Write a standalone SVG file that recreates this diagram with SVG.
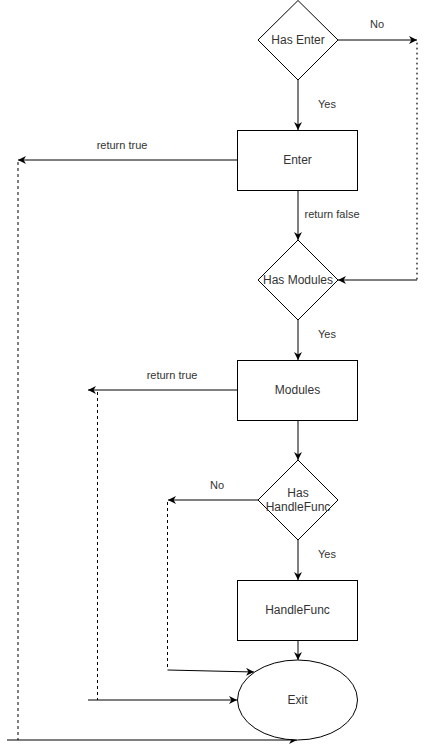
<svg xmlns="http://www.w3.org/2000/svg" width="426" height="749" viewBox="0 0 426 749">
<defs>
<marker id="arr" viewBox="0 0 10 10" refX="10" refY="5" markerWidth="8" markerHeight="8" markerUnits="userSpaceOnUse" orient="auto">
<path d="M0,0 L10,5 L0,10 L3,5 z" fill="#000"/>
</marker>
<style>
.shape{fill:#fff;stroke:#000;stroke-width:1}
.t{font-family:"Liberation Sans",Arial,sans-serif;font-size:12px;fill:#333;text-anchor:middle}
.l{font-family:"Liberation Sans",Arial,sans-serif;font-size:11px;fill:#333;text-anchor:middle}
.e{fill:none;stroke:#000;stroke-width:1}
.a{marker-end:url(#arr)}
.dash{stroke-dasharray:3 3}
.dot{stroke-dasharray:1 4;stroke-linecap:round;stroke-width:1.2}
</style>
</defs>
<rect width="426" height="749" fill="#fff"/>
<g id="connectors">
<path class="e a" d="M298 80 V130"/>
<path class="e a" d="M338 40 H417"/>
<path class="e dot" d="M417 43 V280"/>
<path class="e a" d="M417 280 H338"/>
<path class="e a" d="M237 160 H18"/>
<path class="e dash" d="M18 162 V740"/>
<path class="e a" d="M7 740 H297"/>
<path class="e a" d="M298 190 V240"/>
<path class="e a" d="M298 320 V360"/>
<path class="e a" d="M237 390 H88"/>
<path class="e dash" d="M97.5 392 V700"/>
<path class="e a" d="M88 700 H237"/>
<path class="e a" d="M298 420 V460"/>
<path class="e a" d="M258 500 H168"/>
<path class="e dash" d="M167.5 502 V670"/>
<path class="e a" d="M167.5 670 L254 672"/>
<path class="e a" d="M298 540 V580"/>
<path class="e a" d="M298 640 V660"/>
<text class="l" x="377" y="28">No</text>
<text class="l" x="327" y="108">Yes</text>
<text class="l" x="122" y="149">return true</text>
<text class="l" x="332" y="218">return false</text>
<text class="l" x="327" y="338">Yes</text>
<text class="l" x="172" y="379">return true</text>
<text class="l" x="217" y="489">No</text>
<text class="l" x="327" y="558">Yes</text>
</g>
<g id="has-enter">
<path class="shape" d="M298 0.5 L338 40 L298 80 L258 40 Z"/>
<text class="t" x="298" y="44">Has Enter</text>
</g>
<g id="enter">
<rect class="shape" x="237.5" y="130.5" width="120" height="60"/>
<text class="t" x="297.5" y="164">Enter</text>
</g>
<g id="has-modules">
<path class="shape" d="M298 240 L338 280 L298 320 L258 280 Z"/>
<text class="t" x="298" y="284">Has Modules</text>
</g>
<g id="modules">
<rect class="shape" x="237.5" y="360.5" width="120" height="60"/>
<text class="t" x="297.5" y="394">Modules</text>
</g>
<g id="has-handlefunc">
<path class="shape" d="M298 460 L338 500 L298 540 L258 500 Z"/>
<text class="t" x="298" y="497">Has</text>
<text class="t" x="298" y="511">HandleFunc</text>
</g>
<g id="handlefunc">
<rect class="shape" x="237.5" y="580.5" width="120" height="60"/>
<text class="t" x="297.5" y="614">HandleFunc</text>
</g>
<g id="exit">
<ellipse class="shape" cx="297.5" cy="700" rx="60" ry="40"/>
<text class="t" x="297.5" y="704">Exit</text>
</g>
</svg>
